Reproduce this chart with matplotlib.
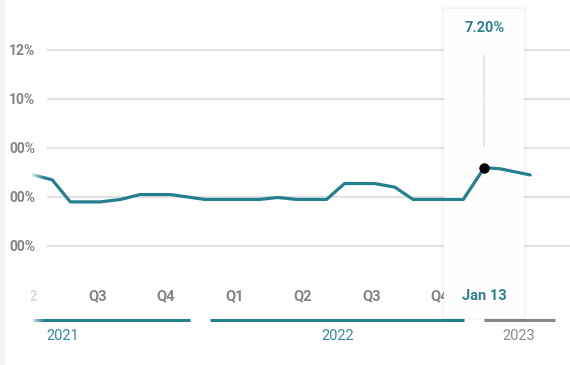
import numpy as np
import matplotlib
matplotlib.use('Agg')
import matplotlib.pyplot as plt
from matplotlib.patches import Rectangle
from matplotlib.transforms import Bbox

# rate series
dates = np.array(['2021-05-23', '2021-06-17', '2021-07-11', '2021-08-20', '2021-09-16',
                  '2021-10-12', '2021-11-21', '2022-01-06', '2022-03-20', '2022-04-13',
                  '2022-05-08', '2022-06-17', '2022-07-11', '2022-08-20', '2022-09-16',
                  '2022-10-10', '2022-12-16', '2023-01-13', '2023-02-03', '2023-03-15'],
                 dtype='datetime64[D]')
rates = [6.90, 6.70, 5.80, 5.80, 5.90,
         6.10, 6.10, 5.90, 5.90, 5.98,
         5.90, 5.90, 6.55, 6.55, 6.40,
         5.90, 5.90, 7.20, 7.15, 6.90]
selected = 17

grid_values = [4, 6, 8, 10, 12]
grid_labels = ['00%', '00%', '00%', '10%', '12%']

quarter_dates = np.array(['2021-05-16', '2021-08-16', '2021-11-15', '2022-02-15',
                          '2022-05-16', '2022-08-16', '2022-11-15', '2023-02-15'],
                         dtype='datetime64[D]')
quarter_labels = ['Q2', 'Q3', 'Q4', 'Q1', 'Q2', 'Q3', 'Q4', 'Q1']

year_labels = ['2021', '2022', '2023']
year_label_dates = np.array(['2021-07-01', '2022-07-02', '2023-02-28'], dtype='datetime64[D]')
year_starts = np.array(['2021-05-23', '2022-01-13', '2023-01-13'], dtype='datetime64[D]')
year_ends = np.array(['2021-12-17', '2022-12-17', '2023-04-17'], dtype='datetime64[D]')
year_colors = ['#23808f', '#23808f', '#8c8888']
year_text_colors = ['#3388a6', '#3388a6', '#8a8a8a']

TEAL = '#24808f'
GRAY = '#858282'

plt.rcParams['font.family'] = ['Roboto', 'DejaVu Sans']

fig = plt.figure(figsize=(5.7, 3.65), dpi=100)
fig.patches.append(Rectangle((0, 0), 4 / 570, 1, transform=fig.transFigure,
                             color='#f3f3f3', zorder=0))

ax = fig.add_axes([47 / 570, 95 / 365, 523 / 570, 270 / 365])
ax.set_xlim(np.datetime64('2021-06-10'), np.datetime64('2023-05-07'))
ax.set_ylim(3.02, 14.04)
for s in ax.spines.values():
    s.set_visible(False)

ax.set_yticks(grid_values)
ax.set_yticklabels(grid_labels)
ax.tick_params(axis='y', length=0, pad=8.6, labelsize=10, labelcolor=GRAY)
for t in ax.get_yticklabels():
    t.set_fontweight('bold')
ax.set_xticks([])
ax.grid(axis='y', color='#e2e2e2', linewidth=1.6)
ax.set_axisbelow(True)

# quarter labels
xt = ax.get_xaxis_transform()
for i, (d, lab) in enumerate(zip(quarter_dates, quarter_labels)):
    t = ax.text(d, -0.096, lab, transform=xt, ha='center', va='center',
                fontsize=10.5, fontweight='bold', color=GRAY, zorder=1,
                clip_on=(i == 0))
    if i == 0:
        t.set_color('#dadada')
        t.set_clip_box(Bbox([[31, 0], [570, 365]]))

# year bands and labels
for i in range(len(year_labels)):
    ax.plot([year_starts[i], year_ends[i]], [-0.185, -0.185], transform=xt,
            color=year_colors[i], lw=2.2, solid_capstyle='butt', clip_on=False, zorder=1)
    ax.text(year_label_dates[i], -0.244, year_labels[i], transform=xt, ha='center',
            va='center', fontsize=10.5, color=year_text_colors[i])

# tooltip card (soft shadow frame + white face)
for k, a in [(3, 0.012), (2, 0.015), (1, 0.02)]:
    ax.add_patch(Rectangle(((444 - k) / 570, (47 - k) / 365), (80 + 2 * k) / 570,
                           (309 + 2 * k) / 365, transform=fig.transFigure,
                           facecolor='#000000', alpha=a, edgecolor='none',
                           clip_on=False, zorder=2))
ax.add_patch(Rectangle((444 / 570, 47 / 365), 80 / 570, 309 / 365,
                       transform=fig.transFigure, facecolor='white', alpha=0.97,
                       edgecolor='none', clip_on=False, zorder=2.1))

sel_date = dates[selected]
ax.vlines(sel_date, 8.05, 11.8, color='#e8e8e8', lw=1.5, zorder=2.5)
ax.text(sel_date, 12.9, f'{rates[selected]:.2f}%', ha='center', va='center',
        fontsize=10.5, fontweight='bold', color='#2e7f93', zorder=3)
ax.text(sel_date, -0.096, sel_date.astype(object).strftime('%b %d'), transform=xt,
        ha='center', va='center', fontsize=10.5, fontweight='bold',
        color='#2e7f93', zorder=3)

# the series
ax.plot(dates, rates, color=TEAL, lw=2.3, solid_joinstyle='round',
        solid_capstyle='round', clip_on=False, zorder=3)
ax.scatter([sel_date], [rates[selected]], s=42, color='black', zorder=4, clip_on=False)

# soft fade on the left edge of the series and of the year band
fade = np.ones((1, 32, 4))
fade[0, :, 3] = np.linspace(1.0, 0.0, 32) ** 1.3
for y0, h in [(180, 30), (42, 8)]:
    fax = fig.add_axes([30 / 570, y0 / 365, 16 / 570, h / 365], zorder=5)
    fax.imshow(fade, aspect='auto', interpolation='bilinear')
    fax.axis('off')

fig.savefig('out.png', dpi=100, facecolor='white')
